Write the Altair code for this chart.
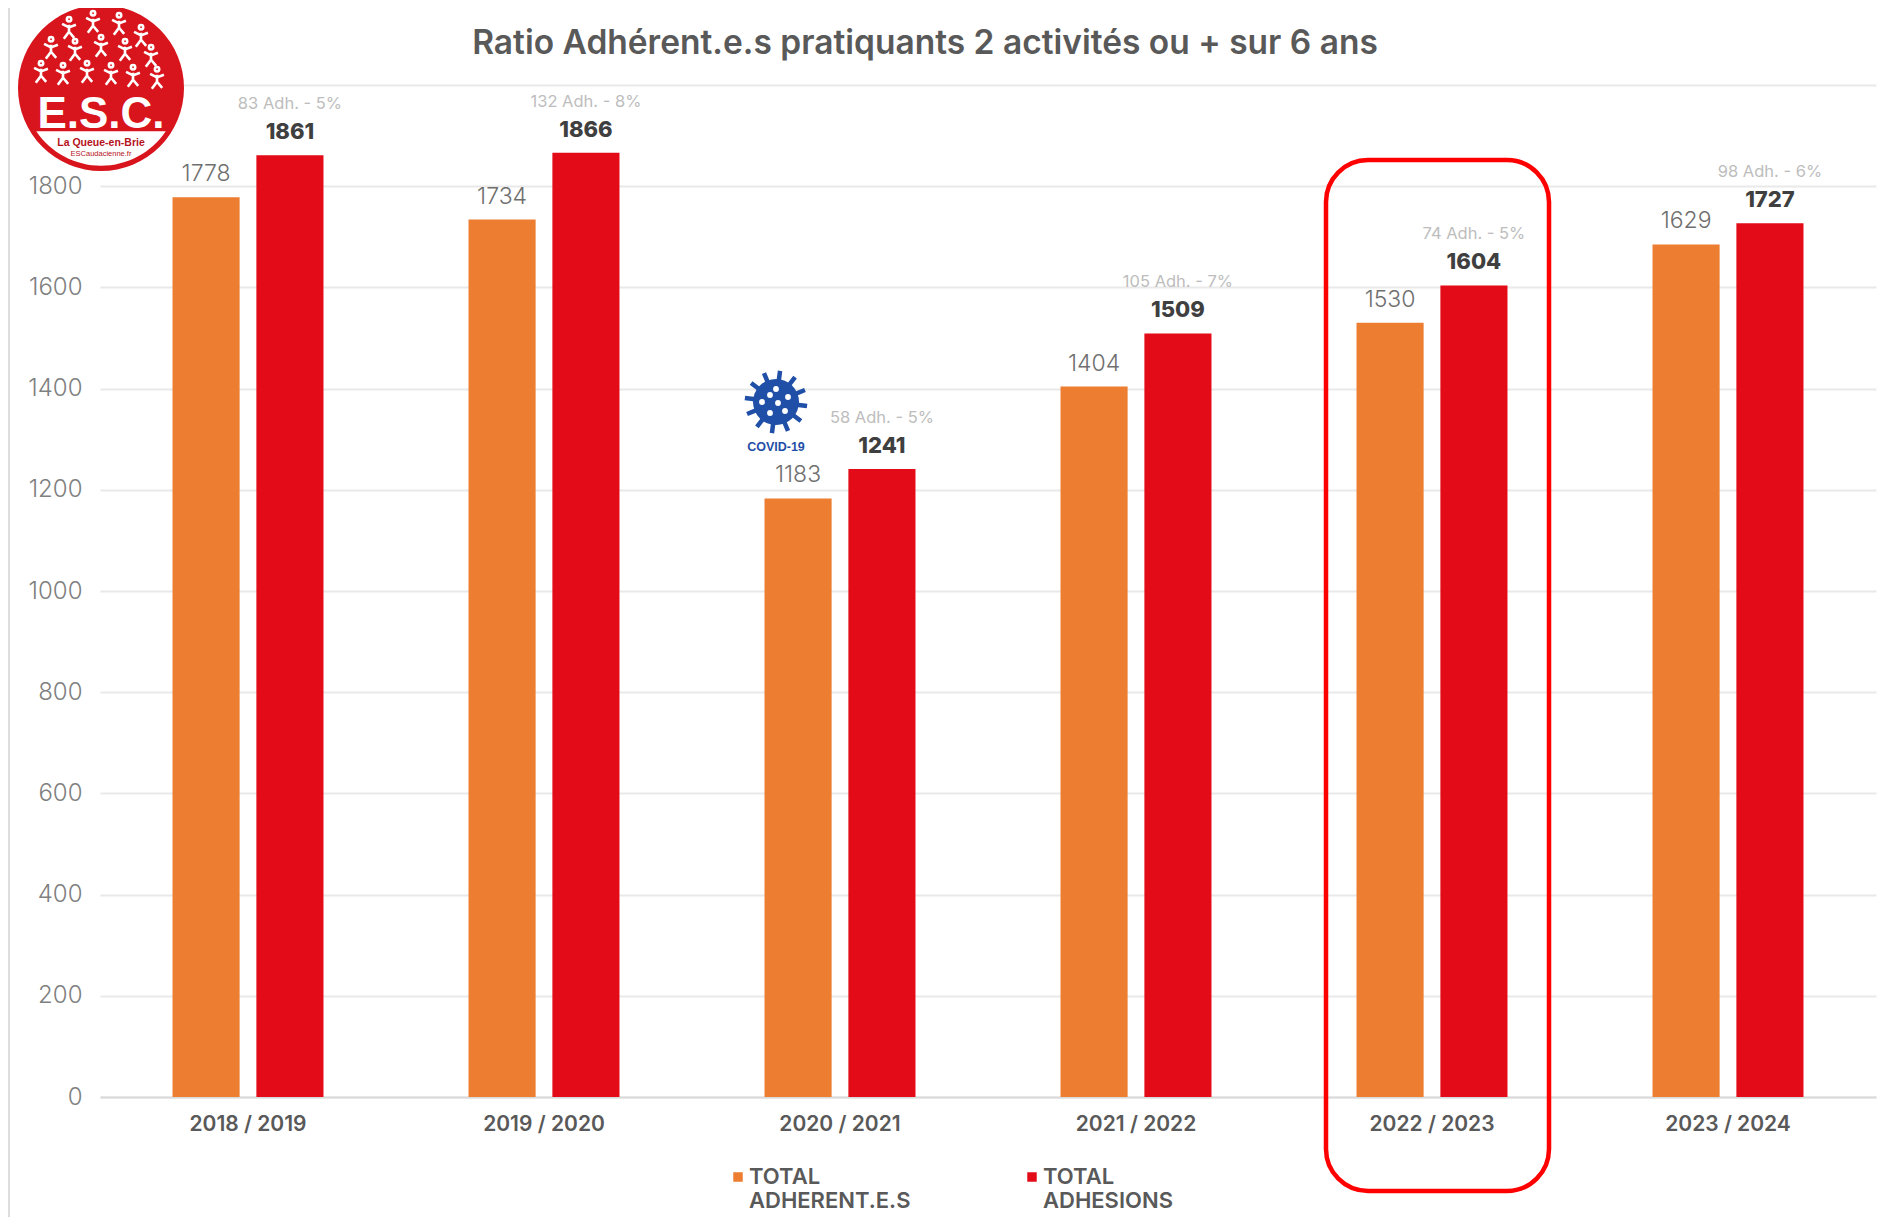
import math
import altair as alt
import pandas as pd

TITLE = "Ratio Adhérent.e.s pratiquants 2 activités ou + sur 6 ans"
seasons = ["2018 / 2019", "2019 / 2020", "2020 / 2021", "2021 / 2022", "2022 / 2023", "2023 / 2024"]
SERIES = ["TOTAL ADHERENT.E.S", "TOTAL ADHESIONS"]
adherents_bar = [1778, 1734, 1183, 1404, 1530, 1685]
adherents_label = ["1778", "1734", "1183", "1404", "1530", "1629"]
adhesions = [1861, 1866, 1241, 1509, 1604, 1727]
ratio_labels = ["83 Adh. - 5%", "132 Adh. - 8%", "58 Adh. - 5%", "105 Adh. - 7%", "74 Adh. - 5%", "98 Adh. - 6%"]
y_ticks = [0, 200, 400, 600, 800, 1000, 1200, 1400, 1600, 1800, 2000]

FONT = "Inter"
W, H = 1776, 1012

df = pd.DataFrame(
    [{"season": s, "series": SERIES[0], "value": v, "label": l, "ratio": ""}
     for s, v, l in zip(seasons, adherents_bar, adherents_label)]
    + [{"season": s, "series": SERIES[1], "value": v, "label": str(v), "ratio": r}
       for s, v, r in zip(seasons, adhesions, ratio_labels)]
)

x = alt.X("season:N", sort=seasons, title=None,
          scale=alt.Scale(paddingInner=0.49, paddingOuter=0.245),
          axis=alt.Axis(labelAngle=0, labelFontSize=21, labelFontWeight=600, labelColor="#595959",
                        labelFont=FONT, labelPadding=16, ticks=False, domainColor="#d9d9d9",
                        domainWidth=2, grid=False))
y = alt.Y("value:Q", title=None, scale=alt.Scale(domain=[0, 2000], nice=False),
          axis=alt.Axis(values=y_ticks, format="d", labelExpr="datum.value == 2000 ? '' : datum.label",
                        labelFontSize=24, labelFontWeight=300, labelColor="#7f7f7f", labelFont=FONT,
                        labelPadding=18, ticks=False, domain=False, grid=True,
                        gridColor="#e9e9e9", gridWidth=2))
xo = alt.XOffset("series:N", sort=SERIES, scale=alt.Scale(domain=SERIES, paddingInner=0.2, paddingOuter=0))
color = alt.Color("series:N", title=None,
                  scale=alt.Scale(domain=SERIES, range=["#ED7D31", "#E30B17"]),
                  legend=alt.Legend(orient="none", legendX=627, legendY=1081, direction="horizontal",
                                    columns=2, columnPadding=110, symbolType="square", symbolSize=90,
                                    labelFont=FONT, labelFontSize=22, labelFontWeight=600,
                                    labelColor="#595959", labelLimit=400, labelOffset=0, padding=0,
                                    labelExpr="split(datum.label, ' ')"))

base = alt.Chart(df)
bars = base.mark_bar().encode(x=x, y=y, xOffset=xo, color=color)
left = base.transform_filter(alt.datum.series == SERIES[0])
right = base.transform_filter(alt.datum.series == SERIES[1])
t_left = left.mark_text(font=FONT, fontSize=23, fontWeight=300, color="#6f6f6f", dy=-23).encode(
    x=x, y=y, xOffset=xo, text="label:N")
t_right = right.mark_text(font=FONT, fontSize=22, fontWeight=800, color="#3f3f3f", dy=-23).encode(
    x=x, y=y, xOffset=xo, text="label:N")
t_ratio = right.mark_text(font=FONT, fontSize=16.5, color="#bdbdbd", dy=-51).encode(
    x=x, y=y, xOffset=xo, text="ratio:N")

one = alt.Chart(alt.Data(values=[{}]))


def at(px, py):
    return dict(x=alt.value(px), y=alt.value(py))


# chart title, page edge line and highlight frame
title = one.mark_text(text=TITLE, font=FONT, fontSize=33.5, fontWeight=600, color="#595959").encode(
    **at(825, -41))
edge = one.mark_rule(color="#dddddd", strokeWidth=2).encode(
    x=alt.value(-91), y=alt.value(-77), y2=alt.value(1132))
frame = one.mark_rect(fillOpacity=0, stroke="#FF0000", strokeWidth=4.5, cornerRadius=42).encode(
    x=alt.value(1226), x2=alt.value(1449), y=alt.value(75), y2=alt.value(1106))

# club logo
LX, LY = 1, 3
logo = [
    one.mark_point(shape="circle", filled=True, size=166 ** 2, color="#D8141C", opacity=1).encode(**at(LX, LY)),
    one.mark_point(shape="M-0.78,0.52 A0.94,0.94 0 0 0 0.78,0.52 Z", filled=True, size=166 ** 2,
                   color="#ffffff", opacity=1).encode(**at(LX, LY)),
    one.mark_text(text="E.S.C.", font="Liberation Sans", fontWeight="bold", fontSize=44, color="#ffffff").encode(**at(LX, 30)),
    one.mark_text(text="La Queue-en-Brie", font="Liberation Sans", fontWeight="bold", fontSize=10.5, color="#B5121B").encode(**at(LX, 58)),
    one.mark_text(text="ESCaudacienne.fr", font="Liberation Sans", fontSize=7.5, color="#B5121B").encode(**at(LX, 69)),
]
FIG = "M0,-1 A0.25,0.25 0 1 1 0.01,-1 M0,-0.6 L0,0.2 L-0.6,1 M0,0.2 L0.6,0.9 M-0.8,-0.7 L0,-0.3 L0.8,-0.6"
fig_pos = [(-32, -58), (-8, -64), (18, -62), (40, -50), (-50, -38), (-26, -36), (0, -40), (24, -36), (50, -30),
           (-60, -14), (-38, -12), (-14, -14), (10, -12), (32, -10), (56, -8)]
logo += [one.mark_point(shape=FIG, size=300, color="#ffffff", strokeWidth=2.6, opacity=1).encode(
    **at(LX + dx, LY + dy)) for dx, dy in fig_pos]

# covid icon
CX, CY = 676, 317
BLUE = "#1F4FA6"
parts = []
for i in range(12):
    a = i * math.pi / 6 + 0.13
    parts.append(f"M{0.5 * math.cos(a):.3f},{0.5 * math.sin(a):.3f} L{0.95 * math.cos(a):.3f},{0.95 * math.sin(a):.3f}")
spikes = " ".join(parts)
covid = [
    one.mark_point(shape=spikes, size=66 ** 2, color=BLUE, strokeWidth=4.5, opacity=1).encode(**at(CX, CY)),
    one.mark_point(shape="circle", filled=True, size=46 ** 2, color=BLUE, opacity=1).encode(**at(CX, CY)),
]
for dx, dy in [(0, -13), (12, -5), (9, 9), (-6, 11), (-14, 0), (-6, -7), (2, 1)]:
    covid.append(one.mark_point(shape="circle", filled=True, size=34, color="#ffffff", opacity=1).encode(
        **at(CX + dx, CY + dy)))
covid.append(one.mark_text(text="COVID-19", font="Liberation Sans", fontWeight="bold", fontSize=12.5, color=BLUE).encode(
    **at(CX, 362)))

chart = alt.layer(edge, bars, t_left, t_right, t_ratio, title, *covid, *logo, frame).properties(
    width=W, height=H,
    background="#ffffff",
    autosize=alt.AutoSizeParams(type="none"),
    padding={"left": 92, "top": 77, "right": 11, "bottom": 120},
).configure_view(stroke=None)

chart.save("out.html", embed_options={"renderer": "svg", "actions": False})
